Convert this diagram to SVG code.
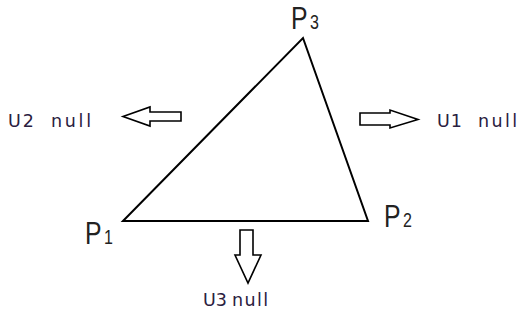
<svg xmlns="http://www.w3.org/2000/svg" width="522" height="325" viewBox="0 0 522 325">
<style>
.edge{fill:none;stroke:#000;stroke-width:2;stroke-linejoin:miter}
.arrow{fill:#fff;stroke:#000;stroke-width:1.6}
.lbl{font-family:"DejaVu Sans",Verdana,sans-serif;font-size:17.5px;fill:#2a2040}
.pt{font-family:"Liberation Sans",Arial,sans-serif;fill:#222}
</style>
<rect width="522" height="325" fill="#fff"/>
<g id="connectors">
<polygon class="edge" points="123,221 303,38 368,221"/>
</g>
<g id="P3"><text class="pt" transform="translate(291,29) scale(0.8,1)"><tspan font-size="31">P</tspan><tspan font-size="20" dx="3">3</tspan></text></g>
<g id="P1"><text class="pt" transform="translate(85,244) scale(0.8,1)"><tspan font-size="31">P</tspan><tspan font-size="20" dx="3">1</tspan></text></g>
<g id="P2"><text class="pt" transform="translate(384,227) scale(0.8,1)"><tspan font-size="31">P</tspan><tspan font-size="20" dx="3">2</tspan></text></g>
<g id="U2">
<polygon class="arrow" points="123,116.5 150,107 150,112 181,112 181,121 150,121 150,126"/>
<text class="lbl" y="127"><tspan x="8" textLength="26" lengthAdjust="spacing">U2</tspan><tspan x="51" textLength="40" lengthAdjust="spacing">null</tspan></text>
</g>
<g id="U1">
<polygon class="arrow" points="360,113 390,113 390,110 418,119.5 390,128 390,125 360,125"/>
<text class="lbl" y="127"><tspan x="437" textLength="25" lengthAdjust="spacing">U1</tspan><tspan x="478" textLength="39" lengthAdjust="spacing">null</tspan></text>
</g>
<g id="U3">
<polygon class="arrow" points="240,230 253,230 253,255 261,255 248,283 235,255 240,255"/>
<text class="lbl" y="306"><tspan x="203" textLength="24" lengthAdjust="spacing">U3</tspan><tspan x="232" textLength="36" lengthAdjust="spacing">null</tspan></text>
</g>
</svg>
